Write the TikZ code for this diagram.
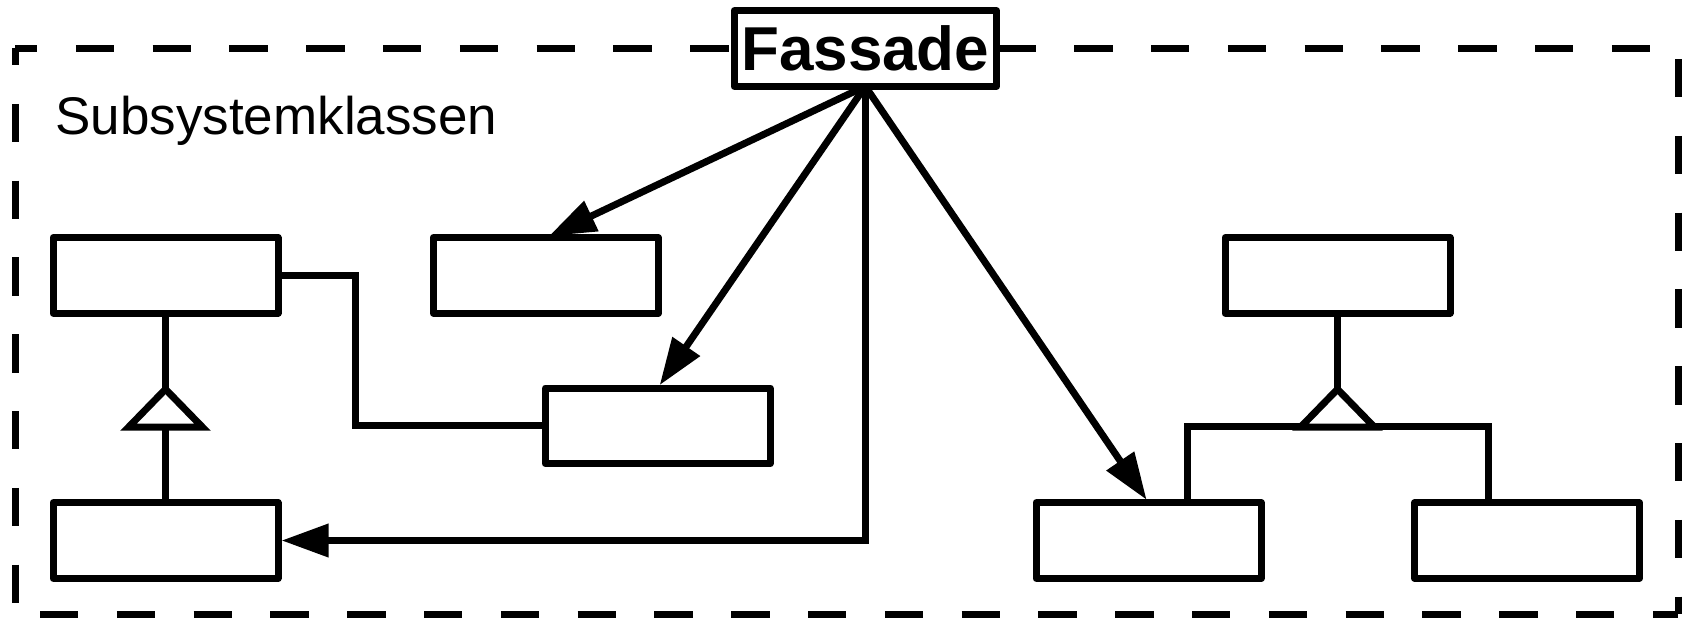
\documentclass[tikz,border=0pt]{standalone}
\usepackage{fontspec}
\setmainfont{Liberation Sans}
\usetikzlibrary{arrows.meta,calc}
\begin{document}
\begin{tikzpicture}[x=0.5pt,y=-0.5pt,
  cls/.style={draw,line width=3.5pt,line join=round,fill=white,minimum width=112.5pt,minimum height=37.8pt,inner sep=0pt,outer sep=0pt},
  conn/.style={line width=3.5pt},
  arr/.style={conn,shorten >=1.75pt,-{Triangle[length=23.5pt,width=16pt]}},
  gen/.style={line width=3.5pt,fill=white,line join=miter},
  frame/.style={line width=3.5pt,dash pattern=on 19.2pt off 19.2pt}]
\useasboundingbox (0,0) rectangle (1688,617);

% subsystem boundary, one side at a time
\coordinate (nw) at (15,48);
\coordinate (ne) at (1678,48);
\coordinate (sw) at (15,614);
\coordinate (se) at (1678,614);
\draw[frame,dash phase=8pt] (nw) -- (ne);
\draw[frame,dash phase=10.5pt] (nw) -- (sw);
\draw[frame,dash phase=32.9pt] (ne) -- (se);
\draw[frame,dash phase=25.9pt] (sw) -- (se);
\node[anchor=base west,inner sep=0pt,font=\fontsize{26.5}{32}\selectfont] (lbl) at (55,134) {Subsystemklassen};

% facade
\node[cls,minimum width=131.3pt,font=\fontsize{31}{37}\selectfont\bfseries] (fas) at (865.3,48.5) {Fassade};

% subsystem classes
\node[cls] (A) at (165.5,275.4) {};
\node[cls] (B) at (545.8,275.4) {};
\node[cls] (C) at (657.7,425.8) {};
\node[cls] (D) at (165.5,540.5) {};
\node[cls] (E) at (1148.6,540.5) {};
\node[cls] (F) at (1337.5,275.4) {};
\node[cls] (G) at (1527,540.5) {};

% facade delegates to subsystem classes
\draw[arr] (fas.south) -- (B.north);
\draw[arr] (fas.south) -- (C.north);
\draw[arr] (fas.south) -- (E.north);
\draw[arr] (fas.south) |- (D.east);

% association A -- C
\draw[conn] (A.east) -- ++(77,0) |- (C.west);

% generalisation D -> A
\coordinate (la) at ($(A.south)+(0,76)$);
\draw[conn] (A.south) -- (la);
\draw[conn] ($(la)+(0,38)$) -- (D.north);
\draw[gen] (la) -- ++(-37,38) -- ++(74,0) -- cycle;

% generalisation E, G -> F
\coordinate (ra) at ($(F.south)+(0,76)$);
\coordinate (rl) at (1187,426.8);
\coordinate (rr) at (1488.7,426.8);
\draw[conn] (rl |- E.north) -- (rl) -- (rr) -- (rr |- G.north);
\draw[conn] (F.south) -- (ra);
\draw[gen] (ra) -- ++(-37,38) -- ++(74,0) -- cycle;
\end{tikzpicture}
\end{document}
